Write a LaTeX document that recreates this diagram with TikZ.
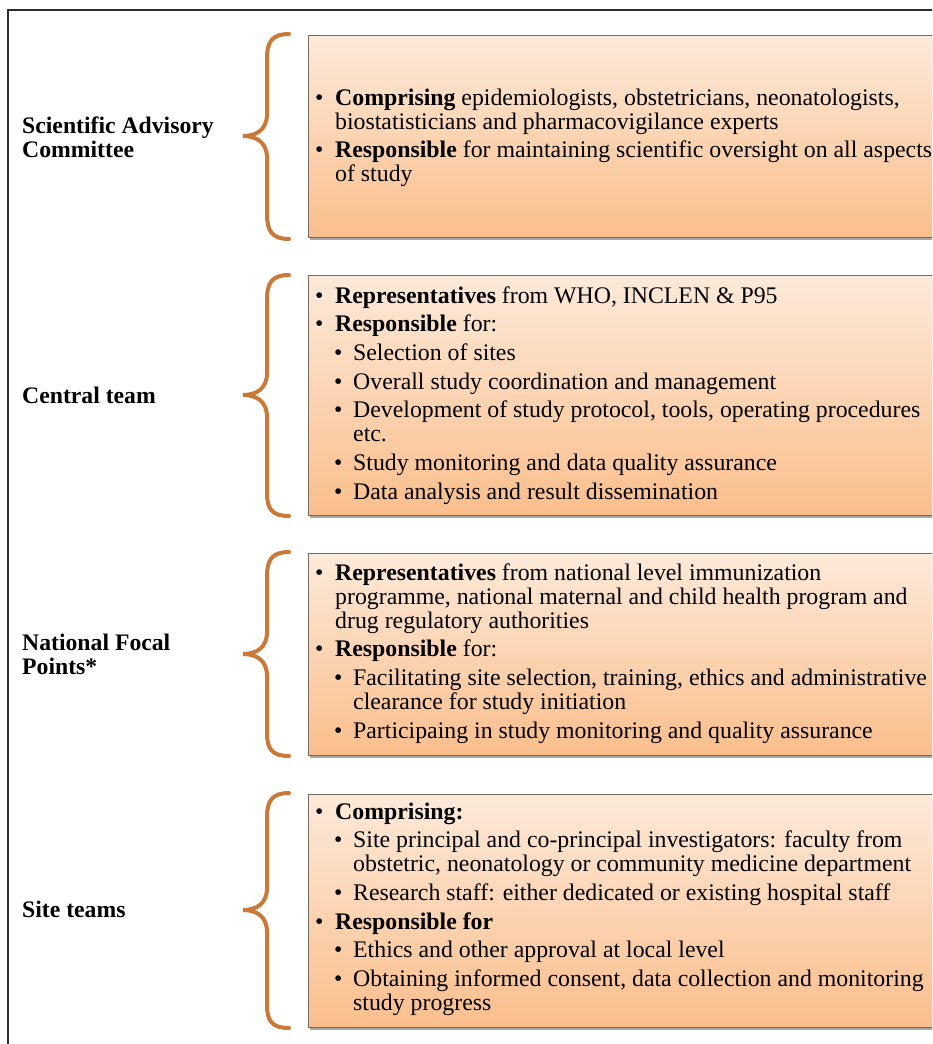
\documentclass[tikz,border=0pt]{standalone}
\usepackage{fontspec}
\setmainfont{Liberation Serif}
\usetikzlibrary{shadows}
\definecolor{bracecol}{RGB}{203,121,56}
\definecolor{gtop}{RGB}{253,234,218}
\definecolor{gbot}{RGB}{250,190,140}
\definecolor{framecol}{RGB}{45,45,45}
\definecolor{boxline}{RGB}{120,105,95}
\newcommand\mainpt[1]{\par\hangindent=20pt\hangafter=1\noindent\makebox[20pt][l]{\textbullet}#1}
\newcommand\subpt[1]{\par\hangindent=38pt\hangafter=1\noindent\hspace*{19pt}\makebox[19pt][l]{\textbullet}#1}
\newcommand\boxtext[1]{\parbox[t]{700pt}{\fontsize{23.8}{24}\selectfont\parindent=0pt\parskip=4.7pt\relax #1}}
\newcommand\labtext[1]{\parbox[t]{240pt}{\fontsize{23.7}{24}\selectfont\bfseries #1}}
\tikzset{
  orgbox/.style={draw=boxline, line width=0.8pt, top color=gtop, bottom color=gbot,
    drop shadow={shadow xshift=2pt, shadow yshift=-3pt, fill=black, opacity=0.35}},
  bracestyle/.style={draw=bracecol, line width=4pt, line cap=round},
  boxtxt/.style={anchor=base west, inner sep=0pt},
  labtxt/.style={anchor=base west, inner sep=0pt}
}
\begin{document}
\begin{tikzpicture}[x=1pt,y=-1pt]
\useasboundingbox (0,0) rectangle (932,1044);
\clip (0,0) rectangle (932,1044);
\fill[white] (0,0) rectangle (932,1044);
% frame
\draw[framecol, line width=1.6pt] (960,10) -- (8,10) -- (8,1070);
% boxes
\path[orgbox] (308,35) rectangle (960,237);
\path[orgbox] (308,275) rectangle (960,515);
\path[orgbox] (308,553) rectangle (960,755);
\path[orgbox] (308,794) rectangle (960,1027);
% braces
\draw[bracestyle] (289,34) .. controls (272,34) and (267,42) .. (267,58) -- (267,114)
  .. controls (267,130) and (256,136) .. (243,136) .. controls (256,136) and (267,142) .. (267,158)
  -- (267,214) .. controls (267,231) and (272,239) .. (289,239);
\draw[bracestyle] (289,275) .. controls (272,275) and (267,283) .. (267,299) -- (267,373)
  .. controls (267,389) and (256,395) .. (243,395) .. controls (256,395) and (267,401) .. (267,417)
  -- (267,493) .. controls (267,509) and (272,516) .. (289,516);
\draw[bracestyle] (289,552) .. controls (272,552) and (267,560) .. (267,576) -- (267,632)
  .. controls (267,648) and (256,654) .. (243,654) .. controls (256,654) and (267,660) .. (267,676)
  -- (267,733) .. controls (267,749) and (272,756) .. (289,756);
\draw[bracestyle] (289,793) .. controls (272,793) and (267,801) .. (267,817) -- (267,888)
  .. controls (267,904) and (256,910) .. (243,910) .. controls (256,910) and (267,916) .. (267,932)
  -- (267,1005) .. controls (267,1021) and (272,1028) .. (289,1028);
% labels
\node[labtxt] (lab1) at (22,133) {\labtext{Scientific Advisory\\Committee}};
\node[labtxt] (lab2) at (22,403) {\labtext{Central team}};
\node[labtxt] (lab3) at (22,650) {\labtext{National Focal\\Points*}};
\node[labtxt] (lab4) at (22,917) {\labtext{Site teams}};
% texts
\node[boxtxt] (txt1) at (315,105) {\boxtext{%
\mainpt{\textbf{Comprising} epidemiologists, obstetricians, neonatologists,\\ biostatisticians and pharmacovigilance experts}
\mainpt{\textbf{Responsible} for maintaining scientific oversight on all aspects\\ of study}}};
\node[boxtxt] (txt2) at (315,303) {\boxtext{%
\mainpt{\textbf{Representatives} from WHO, INCLEN \& P95}
\mainpt{\textbf{Responsible} for:}
\subpt{Selection of sites}
\subpt{Overall study coordination and management}
\subpt{Development of study protocol, tools, operating procedures\\ etc.}
\subpt{Study monitoring and data quality assurance}
\subpt{Data analysis and result dissemination}}};
\node[boxtxt] (txt3) at (315,580) {\boxtext{%
\mainpt{\textbf{Representatives} from national level immunization\\ programme, national maternal and child health program and\\ drug regulatory authorities}
\mainpt{\textbf{Responsible} for:}
\subpt{Facilitating site selection, training, ethics and administrative\\ clearance for study initiation}
\subpt{Participaing in study monitoring and quality assurance}}};
\node[boxtxt] (txt4) at (315,819) {\boxtext{%
\mainpt{\textbf{Comprising:}}
\subpt{Site principal and co-principal investigators: faculty from\\ obstetric, neonatology or community medicine department}
\subpt{Research staff: either dedicated or existing hospital staff}
\mainpt{\textbf{Responsible for}}
\subpt{Ethics and other approval at local level}
\subpt{Obtaining informed consent, data collection and monitoring\\ study progress}}};
\end{tikzpicture}
\end{document}
